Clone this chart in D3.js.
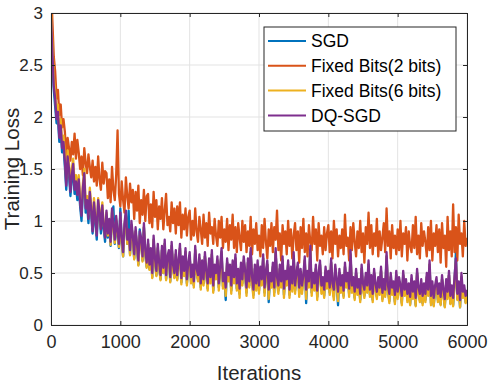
<!DOCTYPE html>
<html>
<head>
<meta charset="utf-8">
<script src="https://cdn.jsdelivr.net/npm/d3@7"></script>
<style>
  body { margin: 0; background: #fff; }
  svg { font-family: "Liberation Sans", Arial, Helvetica, sans-serif; }
</style>
</head>
<body>
<div id="chart"></div>
<script>
// Iteraciones: una muestra cada 20
const iterations = d3.range(0, 6001, 20);

const xTicks = [0, 1000, 2000, 3000, 4000, 5000, 6000];
const yTicks = [0, 0.5, 1, 1.5, 2, 2.5, 3];

const seriesNames = ["SGD", "Fixed Bits(2 bits)", "Fixed Bits(6 bits)", "DQ-SGD"];
const seriesColors = ["#0072BD", "#D95319", "#EDB120", "#7E2F8E"];

const sgdLoss = [
  2.90,2.55,2.26,2.10,1.94,1.98,1.76,1.86,1.66,1.72,
  1.52,1.30,1.56,1.44,1.24,1.40,1.50,1.26,1.34,1.20,
  1.34,1.14,1.00,1.28,1.40,1.08,1.16,0.98,1.24,1.06,
  0.88,1.12,0.98,0.82,1.16,1.04,0.88,1.10,0.92,0.80,
  1.06,0.84,0.98,0.76,1.08,1.14,0.78,1.00,0.86,0.74,
  1.12,0.80,0.66,0.94,1.06,0.78,1.10,0.68,0.96,0.82,
  0.64,0.90,0.74,0.58,0.92,0.80,0.62,0.94,0.68,0.56,
  0.78,0.54,0.70,0.46,0.82,0.60,0.48,0.74,0.56,0.44,
  0.72,0.50,0.78,0.44,0.62,0.68,0.42,0.76,0.54,0.46,
  0.68,0.44,0.58,0.74,0.41,0.62,0.48,0.70,0.40,0.56,
  0.66,0.42,0.54,0.38,0.72,0.50,0.44,0.64,0.36,0.58,
  0.40,0.66,0.48,0.35,0.60,0.42,0.68,0.33,0.54,0.46,
  0.62,0.36,0.52,0.70,0.37,0.46,0.24,0.60,0.44,0.54,
  0.33,0.58,0.42,0.64,0.35,0.50,0.30,0.56,0.40,0.62,
  0.48,0.31,0.60,0.38,0.70,0.42,0.29,0.54,0.36,0.58,
  0.33,0.52,0.40,0.64,0.31,0.48,0.58,0.22,0.46,0.38,
  0.56,0.31,0.70,0.42,0.33,0.54,0.38,0.62,0.29,0.48,
  0.40,0.58,0.29,0.52,0.35,0.66,0.33,0.46,0.56,0.30,
  0.50,0.33,0.44,0.62,0.21,0.48,0.38,0.72,0.31,0.46,
  0.35,0.54,0.27,0.46,0.58,0.33,0.42,0.28,0.52,0.37,
  0.48,0.31,0.60,0.36,0.27,0.54,0.40,0.19,0.50,0.33,
  0.44,0.28,0.56,0.38,0.46,0.30,0.68,0.33,0.42,0.26,
  0.50,0.31,0.40,0.24,0.54,0.36,0.28,0.46,0.33,0.58,
  0.29,0.44,0.24,0.50,0.36,0.27,0.42,0.31,0.52,0.25,
  0.40,0.29,0.66,0.34,0.23,0.46,0.31,0.38,0.22,0.48,
  0.27,0.42,0.34,0.21,0.48,0.30,0.40,0.24,0.36,0.20,
  0.44,0.27,0.38,0.19,0.50,0.32,0.24,0.40,0.21,0.36,
  0.24,0.46,0.30,0.58,0.21,0.38,0.19,0.34,0.42,0.24,
  0.36,0.20,0.44,0.30,0.18,0.40,0.27,0.48,0.21,0.34,
  0.19,0.42,0.70,0.25,0.38,0.17,0.46,0.27,0.34,0.22,
  0.30
];

const fixed2Loss = [
  3.30,2.92,2.58,2.44,2.18,2.26,2.02,2.12,1.90,1.98,
  1.86,1.62,1.80,1.70,1.58,1.76,1.64,1.84,1.60,1.78,
  1.66,1.50,1.62,1.44,1.70,1.56,1.46,1.64,1.52,1.42,
  1.58,1.38,1.52,1.34,1.62,1.40,1.30,1.56,1.36,1.48,
  1.46,1.22,1.40,1.18,1.52,1.30,1.20,1.44,1.87,1.26,
  1.14,1.38,1.20,1.08,1.42,1.24,1.12,1.36,1.18,1.30,
  1.02,1.28,1.10,1.34,0.98,1.20,1.06,1.30,1.00,1.24,
  1.26,0.98,1.16,0.94,1.28,1.04,1.20,0.92,1.14,1.02,
  1.22,0.92,1.10,1.26,0.96,1.04,0.90,1.18,0.98,1.12,
  0.88,1.14,0.96,1.18,0.84,1.06,0.92,1.12,0.86,1.04,
  1.10,0.82,1.00,0.86,1.12,0.90,0.80,1.04,0.92,0.78,
  1.06,0.84,0.98,0.76,1.08,0.88,0.94,0.78,1.02,0.86,
  0.76,1.00,0.84,1.04,0.74,0.92,0.80,1.02,0.72,0.96,
  0.82,1.06,0.74,0.94,0.70,0.98,0.84,0.72,1.00,0.80,
  0.96,0.70,0.90,0.76,1.04,0.68,0.92,0.78,0.98,0.72,
  0.86,0.66,0.96,0.74,1.02,0.80,0.64,0.92,0.76,0.98,
  0.70,0.94,0.82,1.10,0.72,0.88,0.62,0.96,0.78,0.90,
  0.68,1.00,0.76,0.92,0.64,0.86,0.98,0.72,0.90,0.60,
  0.94,0.74,1.02,0.70,0.88,0.66,0.96,0.80,0.72,1.04,
  0.78,0.92,0.62,0.98,0.76,0.86,0.68,0.94,0.72,0.88,
  0.96,0.70,0.90,0.64,1.00,0.78,0.92,0.66,0.86,0.74,
  0.92,0.68,1.06,0.76,0.84,0.62,0.94,0.72,0.98,0.80,
  0.66,0.90,0.74,1.00,0.70,0.88,0.60,0.94,0.78,1.08,
  0.74,0.96,0.68,0.88,0.76,1.02,0.66,0.90,0.72,0.84,
  0.98,0.70,1.12,0.76,0.90,0.64,0.96,0.74,0.86,0.68,
  0.92,0.72,1.00,0.66,0.88,0.78,0.94,0.62,0.90,0.76,
  0.70,0.96,0.74,1.04,0.68,0.86,0.64,0.98,0.76,0.90,
  0.80,0.66,0.94,0.72,1.00,0.62,0.88,0.76,0.96,0.70,
  0.92,0.60,0.98,0.74,0.86,0.56,1.04,0.72,0.90,0.66,
  1.16,0.70,0.94,0.62,1.06,0.78,0.88,0.66,1.00,0.76,
  0.84
];

const fixed6Loss = [
  3.00,2.70,2.38,2.24,2.04,2.12,1.86,1.98,1.76,1.82,
  1.64,1.40,1.68,1.54,1.34,1.50,1.60,1.36,1.44,1.30,
  1.44,1.22,1.10,1.36,1.50,1.16,1.24,1.06,1.32,1.14,
  0.94,1.22,1.04,0.88,1.22,1.10,0.94,1.18,0.96,0.86,
  1.08,0.86,1.00,0.77,1.10,0.94,0.79,1.02,0.88,0.75,
  1.04,0.80,0.66,0.95,1.06,0.78,0.88,0.67,0.96,0.82,
  0.63,0.90,0.74,0.57,0.86,0.80,0.61,0.94,0.68,0.55,
  0.78,0.53,0.70,0.45,0.82,0.60,0.47,0.74,0.55,0.43,
  0.72,0.50,0.78,0.43,0.62,0.68,0.41,0.76,0.53,0.45,
  0.68,0.43,0.58,0.74,0.39,0.62,0.47,0.70,0.38,0.56,
  0.66,0.40,0.54,0.36,0.72,0.50,0.42,0.64,0.34,0.58,
  0.38,0.66,0.48,0.33,0.60,0.40,0.68,0.31,0.54,0.44,
  0.62,0.33,0.52,0.70,0.35,0.46,0.28,0.60,0.42,0.54,
  0.30,0.58,0.40,0.64,0.33,0.50,0.26,0.56,0.38,0.62,
  0.48,0.28,0.60,0.36,0.70,0.40,0.26,0.54,0.33,0.58,
  0.30,0.52,0.38,0.64,0.28,0.48,0.58,0.25,0.46,0.36,
  0.56,0.28,0.70,0.40,0.30,0.54,0.36,0.62,0.26,0.48,
  0.38,0.58,0.26,0.52,0.32,0.66,0.30,0.46,0.56,0.27,
  0.50,0.30,0.44,0.62,0.25,0.48,0.36,0.72,0.28,0.46,
  0.33,0.54,0.24,0.46,0.58,0.30,0.42,0.26,0.52,0.35,
  0.48,0.29,0.60,0.34,0.24,0.54,0.38,0.23,0.50,0.31,
  0.44,0.26,0.56,0.36,0.46,0.27,0.68,0.31,0.42,0.24,
  0.50,0.29,0.40,0.22,0.54,0.34,0.26,0.46,0.31,0.58,
  0.27,0.44,0.22,0.50,0.34,0.25,0.42,0.29,0.52,0.23,
  0.40,0.27,0.66,0.32,0.21,0.46,0.29,0.38,0.20,0.48,
  0.25,0.42,0.32,0.19,0.48,0.28,0.40,0.22,0.36,0.19,
  0.44,0.25,0.38,0.18,0.50,0.30,0.22,0.40,0.19,0.36,
  0.22,0.46,0.28,0.58,0.19,0.38,0.18,0.34,0.42,0.22,
  0.36,0.19,0.44,0.28,0.17,0.40,0.25,0.48,0.20,0.34,
  0.18,0.42,0.62,0.24,0.38,0.17,0.46,0.26,0.34,0.21,
  0.28
];

const dqsgdLoss = [
  2.95,2.62,2.30,2.18,1.98,2.05,1.80,1.92,1.70,1.76,
  1.58,1.34,1.62,1.50,1.28,1.44,1.55,1.30,1.38,1.25,
  1.40,1.18,1.05,1.32,1.46,1.12,1.20,1.02,1.28,1.10,
  0.90,1.18,1.02,0.86,1.20,1.08,0.92,1.15,0.95,0.84,
  1.10,0.88,1.02,0.80,1.12,0.96,0.82,1.05,0.90,0.78,
  1.08,0.84,0.70,0.98,1.10,0.82,0.92,0.72,1.00,0.86,
  0.68,0.94,0.78,0.62,0.90,0.84,0.66,0.98,0.72,0.60,
  0.82,0.58,0.74,0.50,0.86,0.64,0.52,0.78,0.60,0.48,
  0.76,0.55,0.82,0.48,0.66,0.72,0.46,0.80,0.58,0.50,
  0.72,0.48,0.62,0.78,0.45,0.66,0.52,0.74,0.44,0.60,
  0.70,0.46,0.58,0.42,0.76,0.54,0.48,0.68,0.40,0.62,
  0.44,0.70,0.52,0.40,0.64,0.46,0.72,0.38,0.58,0.50,
  0.66,0.40,0.56,0.74,0.42,0.50,0.36,0.64,0.48,0.58,
  0.38,0.62,0.46,0.68,0.40,0.54,0.35,0.60,0.44,0.66,
  0.52,0.36,0.64,0.42,0.74,0.46,0.34,0.58,0.40,0.62,
  0.38,0.56,0.44,0.68,0.36,0.52,0.62,0.34,0.50,0.42,
  0.60,0.36,0.74,0.46,0.38,0.58,0.42,0.66,0.35,0.52,
  0.44,0.62,0.34,0.56,0.40,0.70,0.38,0.50,0.60,0.36,
  0.54,0.38,0.48,0.66,0.34,0.52,0.42,0.76,0.36,0.50,
  0.40,0.58,0.33,0.50,0.62,0.38,0.46,0.34,0.56,0.42,
  0.52,0.36,0.64,0.40,0.34,0.58,0.44,0.32,0.54,0.38,
  0.48,0.33,0.60,0.42,0.50,0.35,0.72,0.38,0.46,0.32,
  0.54,0.36,0.44,0.30,0.58,0.40,0.34,0.50,0.38,0.62,
  0.34,0.48,0.30,0.54,0.40,0.32,0.46,0.36,0.56,0.31,
  0.44,0.34,0.70,0.38,0.30,0.50,0.36,0.42,0.29,0.52,
  0.32,0.46,0.38,0.28,0.52,0.34,0.44,0.30,0.40,0.27,
  0.48,0.32,0.42,0.26,0.54,0.36,0.30,0.44,0.28,0.40,
  0.30,0.50,0.34,0.62,0.28,0.42,0.26,0.38,0.46,0.30,
  0.40,0.27,0.48,0.34,0.25,0.44,0.32,0.52,0.28,0.38,
  0.26,0.46,0.64,0.30,0.42,0.24,0.50,0.32,0.38,0.28,
  0.34
];

const allSeries = [sgdLoss, fixed2Loss, fixed6Loss, dqsgdLoss];

// Dimensiones
const W = 499, H = 389;
const margin = { top: 13, right: 32, bottom: 64, left: 51 },
    width = W - margin.left - margin.right,
    height = H - margin.top - margin.bottom;

const svg = d3.select("#chart")
    .append("svg")
    .attr("width", W)
    .attr("height", H);

const g = svg.append("g")
    .attr("transform", `translate(${margin.left},${margin.top})`);

const x = d3.scaleLinear().domain([0, 6000]).range([0, width]);
const y = d3.scaleLinear().domain([0, 3]).range([height, 0]);

// Rejilla
g.append("g")
    .selectAll("line")
    .data(xTicks)
    .enter()
    .append("line")
    .attr("x1", d => x(d)).attr("x2", d => x(d))
    .attr("y1", 0).attr("y2", height)
    .attr("stroke", "#e3e3e3").attr("stroke-width", 1);

g.append("g")
    .selectAll("line")
    .data(yTicks)
    .enter()
    .append("line")
    .attr("x1", 0).attr("x2", width)
    .attr("y1", d => y(d)).attr("y2", d => y(d))
    .attr("stroke", "#e3e3e3").attr("stroke-width", 1);

// Clip para las curvas
svg.append("defs").append("clipPath").attr("id", "plotClip")
    .append("rect").attr("x", 0).attr("y", 0).attr("width", width).attr("height", height);

const line = d3.line()
    .x((d, i) => x(iterations[i]))
    .y(d => y(d));

const lines = g.append("g").attr("clip-path", "url(#plotClip)");
allSeries.forEach((s, k) => {
    lines.append("path")
        .datum(s)
        .attr("fill", "none")
        .attr("stroke", seriesColors[k])
        .attr("stroke-width", 2.3)
        .attr("stroke-linejoin", "round")
        .attr("d", line);
});

// Ejes (ticks hacia dentro, caja completa)
const axisColor = "#262626";
const xAxis = g.append("g")
    .attr("transform", `translate(0,${height})`)
    .call(d3.axisBottom(x).tickValues(xTicks).tickSize(-4).tickPadding(10).tickFormat(d3.format("d")));
const yAxis = g.append("g")
    .call(d3.axisLeft(y).tickValues(yTicks).tickSize(-4).tickPadding(8).tickFormat(d => d));
const xTop = g.append("g")
    .call(d3.axisTop(x).tickValues(xTicks).tickSize(-4).tickFormat(""));
const yRight = g.append("g")
    .attr("transform", `translate(${width},0)`)
    .call(d3.axisRight(y).tickValues(yTicks).tickSize(-4).tickFormat(""));

[xAxis, yAxis, xTop, yRight].forEach(a => {
    a.select(".domain").attr("stroke", axisColor).attr("stroke-width", 1);
    a.selectAll(".tick line").attr("stroke", axisColor);
    a.selectAll(".tick text").attr("fill", axisColor).style("font-family", null);
});
xAxis.selectAll(".tick text").attr("font-size", 18);
yAxis.selectAll(".tick text").attr("font-size", 17);

// Etiquetas de los ejes
svg.append("text")
    .attr("x", margin.left + width / 2)
    .attr("y", 380)
    .attr("text-anchor", "middle")
    .attr("font-size", 20.5)
    .attr("fill", axisColor)
    .text("Iterations");

svg.append("text")
    .attr("transform", `translate(19,${margin.top + height / 2}) rotate(-90)`)
    .attr("text-anchor", "middle")
    .attr("font-size", 20.5)
    .attr("fill", axisColor)
    .text("Training Loss");

// Leyenda
const legend = svg.append("g").attr("transform", "translate(264,27)");
legend.append("rect")
    .attr("width", 192).attr("height", 104)
    .attr("fill", "#fff").attr("stroke", "#262626").attr("stroke-width", 1);

seriesNames.forEach((name, k) => {
    const yy = 14 + k * 24.8;
    legend.append("line")
        .attr("x1", 4).attr("x2", 42)
        .attr("y1", yy).attr("y2", yy)
        .attr("stroke", seriesColors[k]).attr("stroke-width", 2);
    legend.append("text")
        .attr("x", 47).attr("y", yy + 6.3)
        .attr("font-size", 17.5)
        .attr("fill", "#000")
        .text(name);
});
</script>
</body>
</html>
